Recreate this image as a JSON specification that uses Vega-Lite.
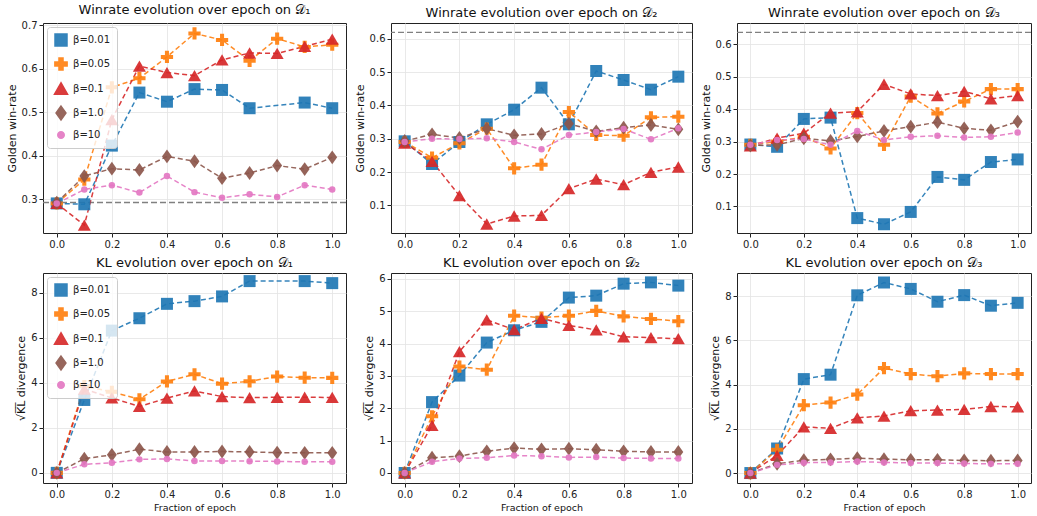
{
"$schema": "https://vega.github.io/schema/vega-lite/v6.json",
"padding": {"left": 5, "top": 3, "right": 0, "bottom": 2},
"config": {
 "font": "DejaVu Sans",
 "view": {"stroke": "#222222", "strokeWidth": 1},
 "axis": {"grid": true, "gridColor": "#e3e3e3", "gridWidth": 0.8, "domain": false, "tickColor": "#222222", "tickSize": 4, "labelFontSize": 10, "labelColor": "#222222", "labelPadding": 2, "titleFontWeight": "normal", "titleFontSize": 11, "titleColor": "#111111", "titlePadding": 4, "minExtent": 0},
 "title": {"fontSize": 13, "fontWeight": "normal", "offset": 3, "color": "#111111"},
 "legend": {"labelFontSize": 10, "labelColor": "#222222"}
},
"datasets": {
 "refs": [
  {"panel": "W1", "y": 0.292},
  {"panel": "W2", "y": 0.619},
  {"panel": "W3", "y": 0.637}
 ],
 "series": [
  {"panel":"W1","beta":"β=0.01","x":0,"y":0.290},{"panel":"W1","beta":"β=0.01","x":0.1,"y":0.288},{"panel":"W1","beta":"β=0.01","x":0.2,"y":0.423},{"panel":"W1","beta":"β=0.01","x":0.3,"y":0.545},{"panel":"W1","beta":"β=0.01","x":0.4,"y":0.524},{"panel":"W1","beta":"β=0.01","x":0.5,"y":0.553},{"panel":"W1","beta":"β=0.01","x":0.6,"y":0.551},{"panel":"W1","beta":"β=0.01","x":0.7,"y":0.509},{"panel":"W1","beta":"β=0.01","x":0.9,"y":0.522},{"panel":"W1","beta":"β=0.01","x":1.0,"y":0.509},
  {"panel":"W1","beta":"β=0.05","x":0,"y":0.290},{"panel":"W1","beta":"β=0.05","x":0.1,"y":0.345},{"panel":"W1","beta":"β=0.05","x":0.2,"y":0.557},{"panel":"W1","beta":"β=0.05","x":0.3,"y":0.578},{"panel":"W1","beta":"β=0.05","x":0.4,"y":0.627},{"panel":"W1","beta":"β=0.05","x":0.5,"y":0.681},{"panel":"W1","beta":"β=0.05","x":0.6,"y":0.666},{"panel":"W1","beta":"β=0.05","x":0.7,"y":0.618},{"panel":"W1","beta":"β=0.05","x":0.8,"y":0.669},{"panel":"W1","beta":"β=0.05","x":0.9,"y":0.650},{"panel":"W1","beta":"β=0.05","x":1.0,"y":0.655},
  {"panel":"W1","beta":"β=0.1","x":0,"y":0.290},{"panel":"W1","beta":"β=0.1","x":0.1,"y":0.240},{"panel":"W1","beta":"β=0.1","x":0.2,"y":0.483},{"panel":"W1","beta":"β=0.1","x":0.3,"y":0.606},{"panel":"W1","beta":"β=0.1","x":0.4,"y":0.591},{"panel":"W1","beta":"β=0.1","x":0.5,"y":0.584},{"panel":"W1","beta":"β=0.1","x":0.6,"y":0.620},{"panel":"W1","beta":"β=0.1","x":0.7,"y":0.636},{"panel":"W1","beta":"β=0.1","x":0.8,"y":0.635},{"panel":"W1","beta":"β=0.1","x":0.9,"y":0.651},{"panel":"W1","beta":"β=0.1","x":1.0,"y":0.668},
  {"panel":"W1","beta":"β=1.0","x":0,"y":0.292},{"panel":"W1","beta":"β=1.0","x":0.1,"y":0.353},{"panel":"W1","beta":"β=1.0","x":0.2,"y":0.370},{"panel":"W1","beta":"β=1.0","x":0.3,"y":0.367},{"panel":"W1","beta":"β=1.0","x":0.4,"y":0.398},{"panel":"W1","beta":"β=1.0","x":0.5,"y":0.387},{"panel":"W1","beta":"β=1.0","x":0.6,"y":0.348},{"panel":"W1","beta":"β=1.0","x":0.7,"y":0.360},{"panel":"W1","beta":"β=1.0","x":0.8,"y":0.377},{"panel":"W1","beta":"β=1.0","x":0.9,"y":0.369},{"panel":"W1","beta":"β=1.0","x":1.0,"y":0.396},
  {"panel":"W1","beta":"β=10","x":0,"y":0.290},{"panel":"W1","beta":"β=10","x":0.1,"y":0.322},{"panel":"W1","beta":"β=10","x":0.2,"y":0.332},{"panel":"W1","beta":"β=10","x":0.3,"y":0.315},{"panel":"W1","beta":"β=10","x":0.4,"y":0.353},{"panel":"W1","beta":"β=10","x":0.5,"y":0.316},{"panel":"W1","beta":"β=10","x":0.6,"y":0.303},{"panel":"W1","beta":"β=10","x":0.7,"y":0.311},{"panel":"W1","beta":"β=10","x":0.8,"y":0.305},{"panel":"W1","beta":"β=10","x":0.9,"y":0.332},{"panel":"W1","beta":"β=10","x":1.0,"y":0.322},

  {"panel":"W2","beta":"β=0.01","x":0,"y":0.292},{"panel":"W2","beta":"β=0.01","x":0.1,"y":0.224},{"panel":"W2","beta":"β=0.01","x":0.2,"y":0.290},{"panel":"W2","beta":"β=0.01","x":0.3,"y":0.343},{"panel":"W2","beta":"β=0.01","x":0.4,"y":0.387},{"panel":"W2","beta":"β=0.01","x":0.5,"y":0.453},{"panel":"W2","beta":"β=0.01","x":0.6,"y":0.343},{"panel":"W2","beta":"β=0.01","x":0.7,"y":0.503},{"panel":"W2","beta":"β=0.01","x":0.8,"y":0.476},{"panel":"W2","beta":"β=0.01","x":0.9,"y":0.447},{"panel":"W2","beta":"β=0.01","x":1.0,"y":0.486},
  {"panel":"W2","beta":"β=0.05","x":0,"y":0.290},{"panel":"W2","beta":"β=0.05","x":0.1,"y":0.243},{"panel":"W2","beta":"β=0.05","x":0.2,"y":0.286},{"panel":"W2","beta":"β=0.05","x":0.3,"y":0.330},{"panel":"W2","beta":"β=0.05","x":0.4,"y":0.211},{"panel":"W2","beta":"β=0.05","x":0.5,"y":0.222},{"panel":"W2","beta":"β=0.05","x":0.6,"y":0.380},{"panel":"W2","beta":"β=0.05","x":0.7,"y":0.311},{"panel":"W2","beta":"β=0.05","x":0.8,"y":0.309},{"panel":"W2","beta":"β=0.05","x":0.9,"y":0.364},{"panel":"W2","beta":"β=0.05","x":1.0,"y":0.366},
  {"panel":"W2","beta":"β=0.1","x":0,"y":0.287},{"panel":"W2","beta":"β=0.1","x":0.1,"y":0.232},{"panel":"W2","beta":"β=0.1","x":0.2,"y":0.129},{"panel":"W2","beta":"β=0.1","x":0.3,"y":0.044},{"panel":"W2","beta":"β=0.1","x":0.4,"y":0.068},{"panel":"W2","beta":"β=0.1","x":0.5,"y":0.070},{"panel":"W2","beta":"β=0.1","x":0.6,"y":0.150},{"panel":"W2","beta":"β=0.1","x":0.7,"y":0.179},{"panel":"W2","beta":"β=0.1","x":0.8,"y":0.162},{"panel":"W2","beta":"β=0.1","x":0.9,"y":0.199},{"panel":"W2","beta":"β=0.1","x":1.0,"y":0.215},
  {"panel":"W2","beta":"β=1.0","x":0,"y":0.293},{"panel":"W2","beta":"β=1.0","x":0.1,"y":0.313},{"panel":"W2","beta":"β=1.0","x":0.2,"y":0.302},{"panel":"W2","beta":"β=1.0","x":0.3,"y":0.330},{"panel":"W2","beta":"β=1.0","x":0.4,"y":0.310},{"panel":"W2","beta":"β=1.0","x":0.5,"y":0.314},{"panel":"W2","beta":"β=1.0","x":0.6,"y":0.345},{"panel":"W2","beta":"β=1.0","x":0.7,"y":0.322},{"panel":"W2","beta":"β=1.0","x":0.8,"y":0.333},{"panel":"W2","beta":"β=1.0","x":0.9,"y":0.341},{"panel":"W2","beta":"β=1.0","x":1.0,"y":0.328},
  {"panel":"W2","beta":"β=10","x":0,"y":0.290},{"panel":"W2","beta":"β=10","x":0.1,"y":0.300},{"panel":"W2","beta":"β=10","x":0.2,"y":0.299},{"panel":"W2","beta":"β=10","x":0.3,"y":0.301},{"panel":"W2","beta":"β=10","x":0.4,"y":0.290},{"panel":"W2","beta":"β=10","x":0.5,"y":0.268},{"panel":"W2","beta":"β=10","x":0.6,"y":0.311},{"panel":"W2","beta":"β=10","x":0.7,"y":0.320},{"panel":"W2","beta":"β=10","x":0.8,"y":0.329},{"panel":"W2","beta":"β=10","x":0.9,"y":0.298},{"panel":"W2","beta":"β=10","x":1.0,"y":0.331},

  {"panel":"W3","beta":"β=0.01","x":0,"y":0.291},{"panel":"W3","beta":"β=0.01","x":0.1,"y":0.284},{"panel":"W3","beta":"β=0.01","x":0.2,"y":0.370},{"panel":"W3","beta":"β=0.01","x":0.3,"y":0.374},{"panel":"W3","beta":"β=0.01","x":0.4,"y":0.064},{"panel":"W3","beta":"β=0.01","x":0.5,"y":0.045},{"panel":"W3","beta":"β=0.01","x":0.6,"y":0.083},{"panel":"W3","beta":"β=0.01","x":0.7,"y":0.191},{"panel":"W3","beta":"β=0.01","x":0.8,"y":0.182},{"panel":"W3","beta":"β=0.01","x":0.9,"y":0.237},{"panel":"W3","beta":"β=0.01","x":1.0,"y":0.245},
  {"panel":"W3","beta":"β=0.05","x":0,"y":0.290},{"panel":"W3","beta":"β=0.05","x":0.1,"y":0.300},{"panel":"W3","beta":"β=0.05","x":0.2,"y":0.315},{"panel":"W3","beta":"β=0.05","x":0.3,"y":0.279},{"panel":"W3","beta":"β=0.05","x":0.4,"y":0.388},{"panel":"W3","beta":"β=0.05","x":0.5,"y":0.290},{"panel":"W3","beta":"β=0.05","x":0.6,"y":0.439},{"panel":"W3","beta":"β=0.05","x":0.7,"y":0.387},{"panel":"W3","beta":"β=0.05","x":0.8,"y":0.424},{"panel":"W3","beta":"β=0.05","x":0.9,"y":0.462},{"panel":"W3","beta":"β=0.05","x":1.0,"y":0.462},
  {"panel":"W3","beta":"β=0.1","x":0,"y":0.287},{"panel":"W3","beta":"β=0.1","x":0.1,"y":0.311},{"panel":"W3","beta":"β=0.1","x":0.2,"y":0.326},{"panel":"W3","beta":"β=0.1","x":0.3,"y":0.388},{"panel":"W3","beta":"β=0.1","x":0.4,"y":0.392},{"panel":"W3","beta":"β=0.1","x":0.5,"y":0.477},{"panel":"W3","beta":"β=0.1","x":0.6,"y":0.447},{"panel":"W3","beta":"β=0.1","x":0.7,"y":0.442},{"panel":"W3","beta":"β=0.1","x":0.8,"y":0.455},{"panel":"W3","beta":"β=0.1","x":0.9,"y":0.432},{"panel":"W3","beta":"β=0.1","x":1.0,"y":0.442},
  {"panel":"W3","beta":"β=1.0","x":0,"y":0.288},{"panel":"W3","beta":"β=1.0","x":0.1,"y":0.290},{"panel":"W3","beta":"β=1.0","x":0.2,"y":0.310},{"panel":"W3","beta":"β=1.0","x":0.3,"y":0.302},{"panel":"W3","beta":"β=1.0","x":0.4,"y":0.316},{"panel":"W3","beta":"β=1.0","x":0.5,"y":0.333},{"panel":"W3","beta":"β=1.0","x":0.6,"y":0.346},{"panel":"W3","beta":"β=1.0","x":0.7,"y":0.360},{"panel":"W3","beta":"β=1.0","x":0.8,"y":0.341},{"panel":"W3","beta":"β=1.0","x":0.9,"y":0.335},{"panel":"W3","beta":"β=1.0","x":1.0,"y":0.362},
  {"panel":"W3","beta":"β=10","x":0,"y":0.290},{"panel":"W3","beta":"β=10","x":0.1,"y":0.305},{"panel":"W3","beta":"β=10","x":0.2,"y":0.308},{"panel":"W3","beta":"β=10","x":0.3,"y":0.290},{"panel":"W3","beta":"β=10","x":0.4,"y":0.333},{"panel":"W3","beta":"β=10","x":0.5,"y":0.305},{"panel":"W3","beta":"β=10","x":0.6,"y":0.315},{"panel":"W3","beta":"β=10","x":0.7,"y":0.318},{"panel":"W3","beta":"β=10","x":0.8,"y":0.313},{"panel":"W3","beta":"β=10","x":0.9,"y":0.315},{"panel":"W3","beta":"β=10","x":1.0,"y":0.328},

  {"panel":"K1","beta":"β=0.01","x":0,"y":0},{"panel":"K1","beta":"β=0.01","x":0.1,"y":3.24},{"panel":"K1","beta":"β=0.01","x":0.2,"y":6.32},{"panel":"K1","beta":"β=0.01","x":0.3,"y":6.87},{"panel":"K1","beta":"β=0.01","x":0.4,"y":7.51},{"panel":"K1","beta":"β=0.01","x":0.5,"y":7.63},{"panel":"K1","beta":"β=0.01","x":0.6,"y":7.84},{"panel":"K1","beta":"β=0.01","x":0.7,"y":8.52},{"panel":"K1","beta":"β=0.01","x":0.9,"y":8.52},{"panel":"K1","beta":"β=0.01","x":1.0,"y":8.43},
  {"panel":"K1","beta":"β=0.05","x":0,"y":0},{"panel":"K1","beta":"β=0.05","x":0.1,"y":3.85},{"panel":"K1","beta":"β=0.05","x":0.2,"y":3.60},{"panel":"K1","beta":"β=0.05","x":0.3,"y":3.27},{"panel":"K1","beta":"β=0.05","x":0.4,"y":4.06},{"panel":"K1","beta":"β=0.05","x":0.5,"y":4.38},{"panel":"K1","beta":"β=0.05","x":0.6,"y":3.96},{"panel":"K1","beta":"β=0.05","x":0.7,"y":4.07},{"panel":"K1","beta":"β=0.05","x":0.8,"y":4.28},{"panel":"K1","beta":"β=0.05","x":0.9,"y":4.23},{"panel":"K1","beta":"β=0.05","x":1.0,"y":4.22},
  {"panel":"K1","beta":"β=0.1","x":0,"y":0},{"panel":"K1","beta":"β=0.1","x":0.1,"y":3.72},{"panel":"K1","beta":"β=0.1","x":0.2,"y":3.33},{"panel":"K1","beta":"β=0.1","x":0.3,"y":2.95},{"panel":"K1","beta":"β=0.1","x":0.4,"y":3.32},{"panel":"K1","beta":"β=0.1","x":0.5,"y":3.64},{"panel":"K1","beta":"β=0.1","x":0.6,"y":3.39},{"panel":"K1","beta":"β=0.1","x":0.7,"y":3.34},{"panel":"K1","beta":"β=0.1","x":0.8,"y":3.36},{"panel":"K1","beta":"β=0.1","x":0.9,"y":3.36},{"panel":"K1","beta":"β=0.1","x":1.0,"y":3.35},
  {"panel":"K1","beta":"β=1.0","x":0,"y":0},{"panel":"K1","beta":"β=1.0","x":0.1,"y":0.63},{"panel":"K1","beta":"β=1.0","x":0.2,"y":0.80},{"panel":"K1","beta":"β=1.0","x":0.3,"y":1.05},{"panel":"K1","beta":"β=1.0","x":0.4,"y":0.93},{"panel":"K1","beta":"β=1.0","x":0.5,"y":0.93},{"panel":"K1","beta":"β=1.0","x":0.6,"y":0.95},{"panel":"K1","beta":"β=1.0","x":0.7,"y":0.93},{"panel":"K1","beta":"β=1.0","x":0.8,"y":0.90},{"panel":"K1","beta":"β=1.0","x":0.9,"y":0.89},{"panel":"K1","beta":"β=1.0","x":1.0,"y":0.89},
  {"panel":"K1","beta":"β=10","x":0,"y":0},{"panel":"K1","beta":"β=10","x":0.1,"y":0.38},{"panel":"K1","beta":"β=10","x":0.2,"y":0.45},{"panel":"K1","beta":"β=10","x":0.3,"y":0.60},{"panel":"K1","beta":"β=10","x":0.4,"y":0.62},{"panel":"K1","beta":"β=10","x":0.5,"y":0.53},{"panel":"K1","beta":"β=10","x":0.6,"y":0.53},{"panel":"K1","beta":"β=10","x":0.7,"y":0.52},{"panel":"K1","beta":"β=10","x":0.8,"y":0.51},{"panel":"K1","beta":"β=10","x":0.9,"y":0.49},{"panel":"K1","beta":"β=10","x":1.0,"y":0.49},

  {"panel":"K2","beta":"β=0.01","x":0,"y":0},{"panel":"K2","beta":"β=0.01","x":0.1,"y":2.19},{"panel":"K2","beta":"β=0.01","x":0.2,"y":3.01},{"panel":"K2","beta":"β=0.01","x":0.3,"y":4.03},{"panel":"K2","beta":"β=0.01","x":0.4,"y":4.41},{"panel":"K2","beta":"β=0.01","x":0.5,"y":4.67},{"panel":"K2","beta":"β=0.01","x":0.6,"y":5.42},{"panel":"K2","beta":"β=0.01","x":0.7,"y":5.48},{"panel":"K2","beta":"β=0.01","x":0.8,"y":5.85},{"panel":"K2","beta":"β=0.01","x":0.9,"y":5.89},{"panel":"K2","beta":"β=0.01","x":1.0,"y":5.79},
  {"panel":"K2","beta":"β=0.05","x":0,"y":0},{"panel":"K2","beta":"β=0.05","x":0.1,"y":1.75},{"panel":"K2","beta":"β=0.05","x":0.2,"y":3.29},{"panel":"K2","beta":"β=0.05","x":0.3,"y":3.19},{"panel":"K2","beta":"β=0.05","x":0.4,"y":4.86},{"panel":"K2","beta":"β=0.05","x":0.5,"y":4.80},{"panel":"K2","beta":"β=0.05","x":0.6,"y":4.86},{"panel":"K2","beta":"β=0.05","x":0.7,"y":5.01},{"panel":"K2","beta":"β=0.05","x":0.8,"y":4.84},{"panel":"K2","beta":"β=0.05","x":0.9,"y":4.76},{"panel":"K2","beta":"β=0.05","x":1.0,"y":4.69},
  {"panel":"K2","beta":"β=0.1","x":0,"y":0},{"panel":"K2","beta":"β=0.1","x":0.1,"y":1.47},{"panel":"K2","beta":"β=0.1","x":0.2,"y":3.75},{"panel":"K2","beta":"β=0.1","x":0.3,"y":4.73},{"panel":"K2","beta":"β=0.1","x":0.4,"y":4.43},{"panel":"K2","beta":"β=0.1","x":0.5,"y":4.78},{"panel":"K2","beta":"β=0.1","x":0.6,"y":4.56},{"panel":"K2","beta":"β=0.1","x":0.7,"y":4.42},{"panel":"K2","beta":"β=0.1","x":0.8,"y":4.21},{"panel":"K2","beta":"β=0.1","x":0.9,"y":4.18},{"panel":"K2","beta":"β=0.1","x":1.0,"y":4.15},
  {"panel":"K2","beta":"β=1.0","x":0,"y":0},{"panel":"K2","beta":"β=1.0","x":0.1,"y":0.47},{"panel":"K2","beta":"β=1.0","x":0.2,"y":0.52},{"panel":"K2","beta":"β=1.0","x":0.3,"y":0.67},{"panel":"K2","beta":"β=1.0","x":0.4,"y":0.77},{"panel":"K2","beta":"β=1.0","x":0.5,"y":0.73},{"panel":"K2","beta":"β=1.0","x":0.6,"y":0.75},{"panel":"K2","beta":"β=1.0","x":0.7,"y":0.72},{"panel":"K2","beta":"β=1.0","x":0.8,"y":0.67},{"panel":"K2","beta":"β=1.0","x":0.9,"y":0.65},{"panel":"K2","beta":"β=1.0","x":1.0,"y":0.65},
  {"panel":"K2","beta":"β=10","x":0,"y":0},{"panel":"K2","beta":"β=10","x":0.1,"y":0.35},{"panel":"K2","beta":"β=10","x":0.2,"y":0.45},{"panel":"K2","beta":"β=10","x":0.3,"y":0.47},{"panel":"K2","beta":"β=10","x":0.4,"y":0.54},{"panel":"K2","beta":"β=10","x":0.5,"y":0.52},{"panel":"K2","beta":"β=10","x":0.6,"y":0.48},{"panel":"K2","beta":"β=10","x":0.7,"y":0.49},{"panel":"K2","beta":"β=10","x":0.8,"y":0.46},{"panel":"K2","beta":"β=10","x":0.9,"y":0.45},{"panel":"K2","beta":"β=10","x":1.0,"y":0.45},

  {"panel":"K3","beta":"β=0.01","x":0,"y":0},{"panel":"K3","beta":"β=0.01","x":0.1,"y":1.11},{"panel":"K3","beta":"β=0.01","x":0.2,"y":4.25},{"panel":"K3","beta":"β=0.01","x":0.3,"y":4.45},{"panel":"K3","beta":"β=0.01","x":0.4,"y":8.04},{"panel":"K3","beta":"β=0.01","x":0.5,"y":8.62},{"panel":"K3","beta":"β=0.01","x":0.6,"y":8.33},{"panel":"K3","beta":"β=0.01","x":0.7,"y":7.75},{"panel":"K3","beta":"β=0.01","x":0.8,"y":8.05},{"panel":"K3","beta":"β=0.01","x":0.9,"y":7.57},{"panel":"K3","beta":"β=0.01","x":1.0,"y":7.70},
  {"panel":"K3","beta":"β=0.05","x":0,"y":0},{"panel":"K3","beta":"β=0.05","x":0.1,"y":1.05},{"panel":"K3","beta":"β=0.05","x":0.2,"y":3.07},{"panel":"K3","beta":"β=0.05","x":0.3,"y":3.19},{"panel":"K3","beta":"β=0.05","x":0.4,"y":3.55},{"panel":"K3","beta":"β=0.05","x":0.5,"y":4.75},{"panel":"K3","beta":"β=0.05","x":0.6,"y":4.48},{"panel":"K3","beta":"β=0.05","x":0.7,"y":4.38},{"panel":"K3","beta":"β=0.05","x":0.8,"y":4.51},{"panel":"K3","beta":"β=0.05","x":0.9,"y":4.48},{"panel":"K3","beta":"β=0.05","x":1.0,"y":4.48},
  {"panel":"K3","beta":"β=0.1","x":0,"y":0},{"panel":"K3","beta":"β=0.1","x":0.1,"y":0.80},{"panel":"K3","beta":"β=0.1","x":0.2,"y":2.09},{"panel":"K3","beta":"β=0.1","x":0.3,"y":2.02},{"panel":"K3","beta":"β=0.1","x":0.4,"y":2.50},{"panel":"K3","beta":"β=0.1","x":0.5,"y":2.58},{"panel":"K3","beta":"β=0.1","x":0.6,"y":2.82},{"panel":"K3","beta":"β=0.1","x":0.7,"y":2.85},{"panel":"K3","beta":"β=0.1","x":0.8,"y":2.88},{"panel":"K3","beta":"β=0.1","x":0.9,"y":3.01},{"panel":"K3","beta":"β=0.1","x":1.0,"y":3.00},
  {"panel":"K3","beta":"β=1.0","x":0,"y":0},{"panel":"K3","beta":"β=1.0","x":0.1,"y":0.42},{"panel":"K3","beta":"β=1.0","x":0.2,"y":0.58},{"panel":"K3","beta":"β=1.0","x":0.3,"y":0.62},{"panel":"K3","beta":"β=1.0","x":0.4,"y":0.67},{"panel":"K3","beta":"β=1.0","x":0.5,"y":0.63},{"panel":"K3","beta":"β=1.0","x":0.6,"y":0.60},{"panel":"K3","beta":"β=1.0","x":0.7,"y":0.60},{"panel":"K3","beta":"β=1.0","x":0.8,"y":0.57},{"panel":"K3","beta":"β=1.0","x":0.9,"y":0.56},{"panel":"K3","beta":"β=1.0","x":1.0,"y":0.57},
  {"panel":"K3","beta":"β=10","x":0,"y":0},{"panel":"K3","beta":"β=10","x":0.1,"y":0.37},{"panel":"K3","beta":"β=10","x":0.2,"y":0.47},{"panel":"K3","beta":"β=10","x":0.3,"y":0.48},{"panel":"K3","beta":"β=10","x":0.4,"y":0.52},{"panel":"K3","beta":"β=10","x":0.5,"y":0.48},{"panel":"K3","beta":"β=10","x":0.6,"y":0.46},{"panel":"K3","beta":"β=10","x":0.7,"y":0.45},{"panel":"K3","beta":"β=10","x":0.8,"y":0.43},{"panel":"K3","beta":"β=10","x":0.9,"y":0.42},{"panel":"K3","beta":"β=10","x":1.0,"y":0.42}
 ]
},
"columns": 3,
"spacing": {"row": 6, "column": 5},
"resolve": {"scale": {"color": "independent", "shape": "independent", "size": "independent"}},
"concat": [
 {
  "width": 303, "height": 210,
  "title": "Winrate evolution over epoch on 𝒟₁",
  "encoding": {"y": {"field": "y", "type": "quantitative", "scale": {"domain": [0.222, 0.705], "nice": false, "zero": false}, "axis": {"title": "Golden win-rate", "values": [0.3, 0.4, 0.5, 0.6, 0.7], "format": ".1f"}}},
  "layer": [
   {"data": {"name": "refs"}, "transform": [{"filter": "datum.panel === 'W1'"}], "mark": {"type": "rule", "color": "#808080", "strokeDash": [6, 3], "strokeWidth": 1.4}, "encoding": {}},
   {"data": {"name": "series"}, "transform": [{"filter": "datum.panel === 'W1'"}], "mark": {"type": "line", "strokeDash": [5, 3], "strokeWidth": 1.5, "opacity": 0.9},
    "encoding": {"x": {"field": "x", "type": "quantitative", "scale": {"domain": [-0.05, 1.05], "nice": false}, "axis": {"title": null, "values": [0, 0.2, 0.4, 0.6, 0.8, 1.0], "format": ".1f"}},
     "color": {"field": "beta", "type": "nominal", "scale": {"domain": ["β=0.01", "β=0.05", "β=0.1", "β=1.0", "β=10"], "range": ["#1f77b4", "#ff7f0e", "#d62728", "#8c564b", "#e377c2"]}, "legend": {"title": null, "orient": "top-left", "offset": 4, "fillColor": "rgba(255,255,255,0.8)", "strokeColor": "#cccccc", "padding": 6, "cornerRadius": 3, "rowPadding": 5}}}},
   {"data": {"name": "series"}, "transform": [{"filter": "datum.panel === 'W1'"}], "mark": {"type": "point", "filled": true, "opacity": 0.92},
    "encoding": {"x": {"field": "x", "type": "quantitative"},
     "color": {"field": "beta", "type": "nominal", "legend": {"title": null, "orient": "top-left", "offset": 4, "fillColor": "rgba(255,255,255,0.8)", "strokeColor": "#cccccc", "padding": 6, "cornerRadius": 3, "rowPadding": 5}},
     "shape": {"field": "beta", "type": "nominal", "scale": {"domain": ["β=0.01", "β=0.05", "β=0.1", "β=1.0", "β=10"], "range": ["square", "M-0.33,-1H0.33V-0.33H1V0.33H0.33V1H-0.33V0.33H-1V-0.33H-0.33Z", "triangle-up", "M0,-1L0.72,0L0,1L-0.72,0Z", "circle"]}, "legend": {"title": null, "orient": "top-left", "offset": 4, "fillColor": "rgba(255,255,255,0.8)", "strokeColor": "#cccccc", "padding": 6, "cornerRadius": 3, "rowPadding": 5}},
     "size": {"field": "beta", "type": "nominal", "scale": {"type": "ordinal", "domain": ["β=0.01", "β=0.05", "β=0.1", "β=1.0", "β=10"], "range": [144, 150, 170, 190, 42]}, "legend": {"title": null, "orient": "top-left", "offset": 4, "fillColor": "rgba(255,255,255,0.8)", "strokeColor": "#cccccc", "padding": 6, "cornerRadius": 3, "rowPadding": 5}}}}
  ]
 },
 {
  "width": 301, "height": 210,
  "title": "Winrate evolution over epoch on 𝒟₂",
  "encoding": {"y": {"field": "y", "type": "quantitative", "scale": {"domain": [0.017, 0.647], "nice": false, "zero": false}, "axis": {"title": "Golden win-rate", "values": [0.1, 0.2, 0.3, 0.4, 0.5, 0.6], "format": ".1f"}}},
  "layer": [
   {"data": {"name": "refs"}, "transform": [{"filter": "datum.panel === 'W2'"}], "mark": {"type": "rule", "color": "#808080", "strokeDash": [6, 3], "strokeWidth": 1.4}, "encoding": {}},
   {"data": {"name": "series"}, "transform": [{"filter": "datum.panel === 'W2'"}], "mark": {"type": "line", "strokeDash": [5, 3], "strokeWidth": 1.5, "opacity": 0.9},
    "encoding": {"x": {"field": "x", "type": "quantitative", "scale": {"domain": [-0.05, 1.05], "nice": false}, "axis": {"title": null, "values": [0, 0.2, 0.4, 0.6, 0.8, 1.0], "format": ".1f"}},
     "color": {"field": "beta", "type": "nominal", "scale": {"domain": ["β=0.01", "β=0.05", "β=0.1", "β=1.0", "β=10"], "range": ["#1f77b4", "#ff7f0e", "#d62728", "#8c564b", "#e377c2"]}, "legend": null}}},
   {"data": {"name": "series"}, "transform": [{"filter": "datum.panel === 'W2'"}], "mark": {"type": "point", "filled": true, "opacity": 0.92},
    "encoding": {"x": {"field": "x", "type": "quantitative"},
     "color": {"field": "beta", "type": "nominal", "legend": null},
     "shape": {"field": "beta", "type": "nominal", "scale": {"domain": ["β=0.01", "β=0.05", "β=0.1", "β=1.0", "β=10"], "range": ["square", "M-0.33,-1H0.33V-0.33H1V0.33H0.33V1H-0.33V0.33H-1V-0.33H-0.33Z", "triangle-up", "M0,-1L0.72,0L0,1L-0.72,0Z", "circle"]}, "legend": null},
     "size": {"field": "beta", "type": "nominal", "scale": {"type": "ordinal", "domain": ["β=0.01", "β=0.05", "β=0.1", "β=1.0", "β=10"], "range": [144, 150, 170, 190, 42]}, "legend": null}}}
  ]
 },
 {
  "width": 294, "height": 210,
  "title": "Winrate evolution over epoch on 𝒟₃",
  "encoding": {"y": {"field": "y", "type": "quantitative", "scale": {"domain": [0.018, 0.666], "nice": false, "zero": false}, "axis": {"title": "Golden win-rate", "values": [0.1, 0.2, 0.3, 0.4, 0.5, 0.6], "format": ".1f"}}},
  "layer": [
   {"data": {"name": "refs"}, "transform": [{"filter": "datum.panel === 'W3'"}], "mark": {"type": "rule", "color": "#808080", "strokeDash": [6, 3], "strokeWidth": 1.4}, "encoding": {}},
   {"data": {"name": "series"}, "transform": [{"filter": "datum.panel === 'W3'"}], "mark": {"type": "line", "strokeDash": [5, 3], "strokeWidth": 1.5, "opacity": 0.9},
    "encoding": {"x": {"field": "x", "type": "quantitative", "scale": {"domain": [-0.05, 1.05], "nice": false}, "axis": {"title": null, "values": [0, 0.2, 0.4, 0.6, 0.8, 1.0], "format": ".1f"}},
     "color": {"field": "beta", "type": "nominal", "scale": {"domain": ["β=0.01", "β=0.05", "β=0.1", "β=1.0", "β=10"], "range": ["#1f77b4", "#ff7f0e", "#d62728", "#8c564b", "#e377c2"]}, "legend": null}}},
   {"data": {"name": "series"}, "transform": [{"filter": "datum.panel === 'W3'"}], "mark": {"type": "point", "filled": true, "opacity": 0.92},
    "encoding": {"x": {"field": "x", "type": "quantitative"},
     "color": {"field": "beta", "type": "nominal", "legend": null},
     "shape": {"field": "beta", "type": "nominal", "scale": {"domain": ["β=0.01", "β=0.05", "β=0.1", "β=1.0", "β=10"], "range": ["square", "M-0.33,-1H0.33V-0.33H1V0.33H0.33V1H-0.33V0.33H-1V-0.33H-0.33Z", "triangle-up", "M0,-1L0.72,0L0,1L-0.72,0Z", "circle"]}, "legend": null},
     "size": {"field": "beta", "type": "nominal", "scale": {"type": "ordinal", "domain": ["β=0.01", "β=0.05", "β=0.1", "β=1.0", "β=10"], "range": [144, 150, 170, 190, 42]}, "legend": null}}}
  ]
 },
 {
  "width": 303, "height": 210,
  "title": "KL evolution over epoch on 𝒟₁",
  "encoding": {"y": {"field": "y", "type": "quantitative", "scale": {"domain": [-0.45, 8.88], "nice": false, "zero": false}, "axis": {"title": "√K̅L̅ divergence", "values": [0, 2, 4, 6, 8], "format": "d"}}},
  "layer": [
   {"data": {"name": "series"}, "transform": [{"filter": "datum.panel === 'K1'"}], "mark": {"type": "line", "strokeDash": [5, 3], "strokeWidth": 1.5, "opacity": 0.9},
    "encoding": {"x": {"field": "x", "type": "quantitative", "scale": {"domain": [-0.05, 1.05], "nice": false}, "axis": {"title": "Fraction of epoch", "titleFontSize": 9.5, "titlePadding": 3, "values": [0, 0.2, 0.4, 0.6, 0.8, 1.0], "format": ".1f"}},
     "color": {"field": "beta", "type": "nominal", "scale": {"domain": ["β=0.01", "β=0.05", "β=0.1", "β=1.0", "β=10"], "range": ["#1f77b4", "#ff7f0e", "#d62728", "#8c564b", "#e377c2"]}, "legend": {"title": null, "orient": "top-left", "offset": 4, "fillColor": "rgba(255,255,255,0.8)", "strokeColor": "#cccccc", "padding": 6, "cornerRadius": 3, "rowPadding": 5}}}},
   {"data": {"name": "series"}, "transform": [{"filter": "datum.panel === 'K1'"}], "mark": {"type": "point", "filled": true, "opacity": 0.92},
    "encoding": {"x": {"field": "x", "type": "quantitative"},
     "color": {"field": "beta", "type": "nominal", "legend": {"title": null, "orient": "top-left", "offset": 4, "fillColor": "rgba(255,255,255,0.8)", "strokeColor": "#cccccc", "padding": 6, "cornerRadius": 3, "rowPadding": 5}},
     "shape": {"field": "beta", "type": "nominal", "scale": {"domain": ["β=0.01", "β=0.05", "β=0.1", "β=1.0", "β=10"], "range": ["square", "M-0.33,-1H0.33V-0.33H1V0.33H0.33V1H-0.33V0.33H-1V-0.33H-0.33Z", "triangle-up", "M0,-1L0.72,0L0,1L-0.72,0Z", "circle"]}, "legend": {"title": null, "orient": "top-left", "offset": 4, "fillColor": "rgba(255,255,255,0.8)", "strokeColor": "#cccccc", "padding": 6, "cornerRadius": 3, "rowPadding": 5}},
     "size": {"field": "beta", "type": "nominal", "scale": {"type": "ordinal", "domain": ["β=0.01", "β=0.05", "β=0.1", "β=1.0", "β=10"], "range": [144, 150, 170, 190, 42]}, "legend": {"title": null, "orient": "top-left", "offset": 4, "fillColor": "rgba(255,255,255,0.8)", "strokeColor": "#cccccc", "padding": 6, "cornerRadius": 3, "rowPadding": 5}}}}
  ]
 },
 {
  "width": 301, "height": 210,
  "title": "KL evolution over epoch on 𝒟₂",
  "encoding": {"y": {"field": "y", "type": "quantitative", "scale": {"domain": [-0.31, 6.18], "nice": false, "zero": false}, "axis": {"title": "√K̅L̅ divergence", "values": [0, 1, 2, 3, 4, 5, 6], "format": "d"}}},
  "layer": [
   {"data": {"name": "series"}, "transform": [{"filter": "datum.panel === 'K2'"}], "mark": {"type": "line", "strokeDash": [5, 3], "strokeWidth": 1.5, "opacity": 0.9},
    "encoding": {"x": {"field": "x", "type": "quantitative", "scale": {"domain": [-0.05, 1.05], "nice": false}, "axis": {"title": "Fraction of epoch", "titleFontSize": 9.5, "titlePadding": 3, "values": [0, 0.2, 0.4, 0.6, 0.8, 1.0], "format": ".1f"}},
     "color": {"field": "beta", "type": "nominal", "scale": {"domain": ["β=0.01", "β=0.05", "β=0.1", "β=1.0", "β=10"], "range": ["#1f77b4", "#ff7f0e", "#d62728", "#8c564b", "#e377c2"]}, "legend": null}}},
   {"data": {"name": "series"}, "transform": [{"filter": "datum.panel === 'K2'"}], "mark": {"type": "point", "filled": true, "opacity": 0.92},
    "encoding": {"x": {"field": "x", "type": "quantitative"},
     "color": {"field": "beta", "type": "nominal", "legend": null},
     "shape": {"field": "beta", "type": "nominal", "scale": {"domain": ["β=0.01", "β=0.05", "β=0.1", "β=1.0", "β=10"], "range": ["square", "M-0.33,-1H0.33V-0.33H1V0.33H0.33V1H-0.33V0.33H-1V-0.33H-0.33Z", "triangle-up", "M0,-1L0.72,0L0,1L-0.72,0Z", "circle"]}, "legend": null},
     "size": {"field": "beta", "type": "nominal", "scale": {"type": "ordinal", "domain": ["β=0.01", "β=0.05", "β=0.1", "β=1.0", "β=10"], "range": [144, 150, 170, 190, 42]}, "legend": null}}}
  ]
 },
 {
  "width": 294, "height": 210,
  "title": "KL evolution over epoch on 𝒟₃",
  "encoding": {"y": {"field": "y", "type": "quantitative", "scale": {"domain": [-0.45, 9.05], "nice": false, "zero": false}, "axis": {"title": "√K̅L̅ divergence", "values": [0, 2, 4, 6, 8], "format": "d"}}},
  "layer": [
   {"data": {"name": "series"}, "transform": [{"filter": "datum.panel === 'K3'"}], "mark": {"type": "line", "strokeDash": [5, 3], "strokeWidth": 1.5, "opacity": 0.9},
    "encoding": {"x": {"field": "x", "type": "quantitative", "scale": {"domain": [-0.05, 1.05], "nice": false}, "axis": {"title": "Fraction of epoch", "titleFontSize": 9.5, "titlePadding": 3, "values": [0, 0.2, 0.4, 0.6, 0.8, 1.0], "format": ".1f"}},
     "color": {"field": "beta", "type": "nominal", "scale": {"domain": ["β=0.01", "β=0.05", "β=0.1", "β=1.0", "β=10"], "range": ["#1f77b4", "#ff7f0e", "#d62728", "#8c564b", "#e377c2"]}, "legend": null}}},
   {"data": {"name": "series"}, "transform": [{"filter": "datum.panel === 'K3'"}], "mark": {"type": "point", "filled": true, "opacity": 0.92},
    "encoding": {"x": {"field": "x", "type": "quantitative"},
     "color": {"field": "beta", "type": "nominal", "legend": null},
     "shape": {"field": "beta", "type": "nominal", "scale": {"domain": ["β=0.01", "β=0.05", "β=0.1", "β=1.0", "β=10"], "range": ["square", "M-0.33,-1H0.33V-0.33H1V0.33H0.33V1H-0.33V0.33H-1V-0.33H-0.33Z", "triangle-up", "M0,-1L0.72,0L0,1L-0.72,0Z", "circle"]}, "legend": null},
     "size": {"field": "beta", "type": "nominal", "scale": {"type": "ordinal", "domain": ["β=0.01", "β=0.05", "β=0.1", "β=1.0", "β=10"], "range": [144, 150, 170, 190, 42]}, "legend": null}}}
  ]
 }
]
}
